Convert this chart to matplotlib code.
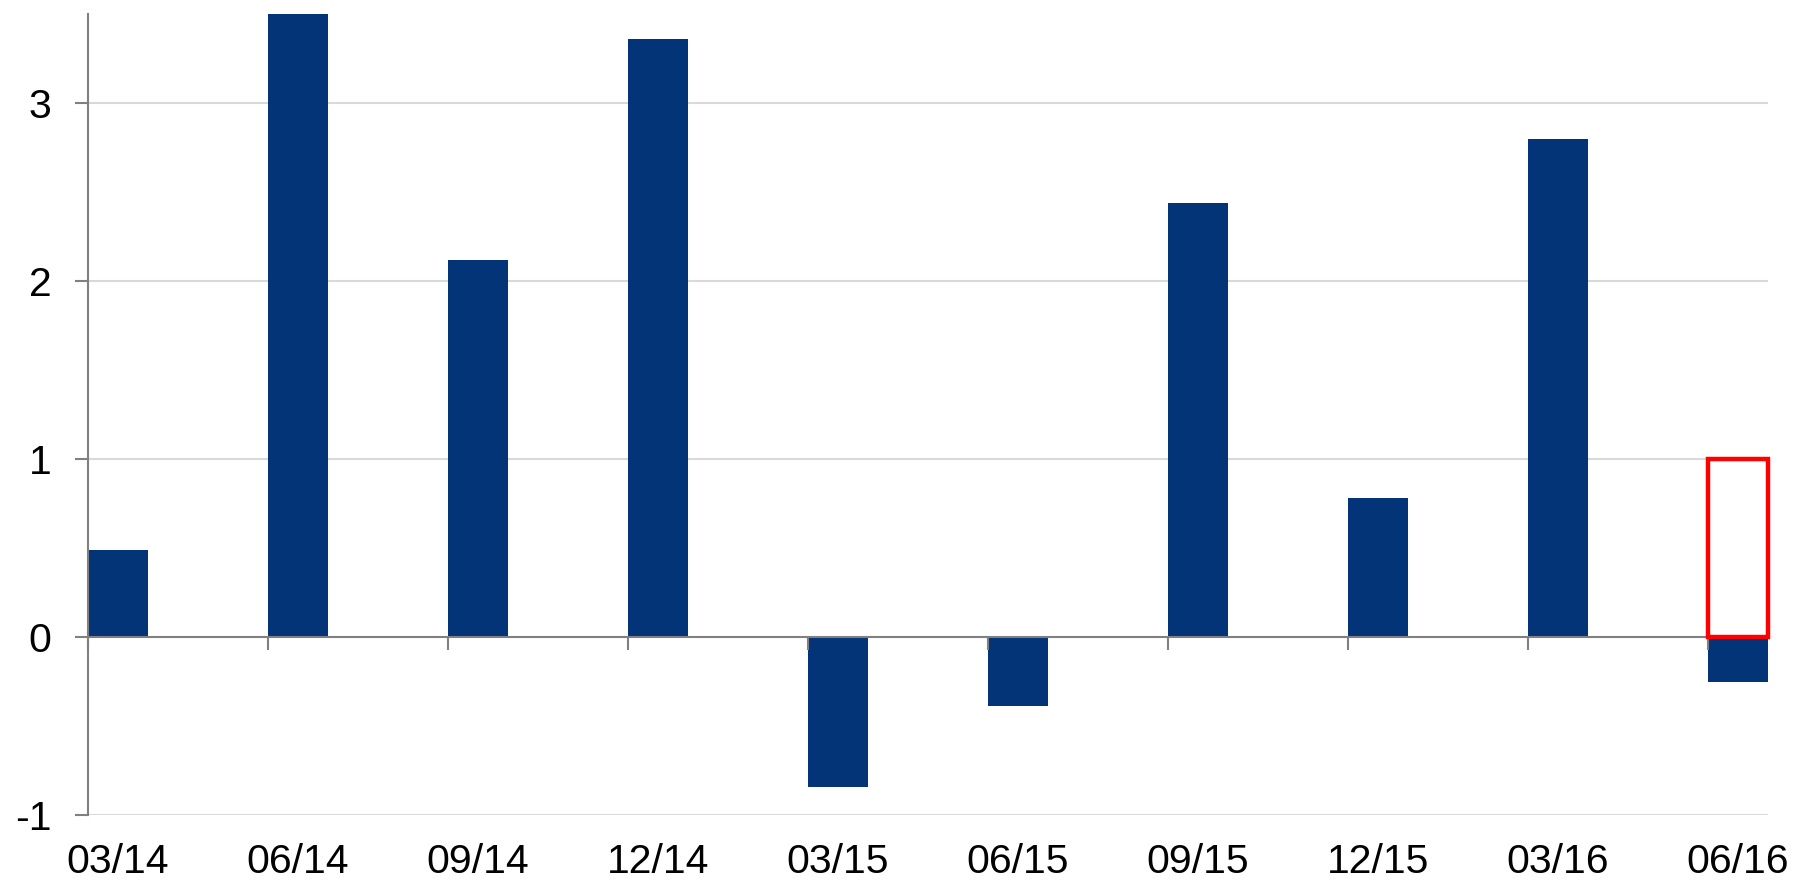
"""Quarterly bar chart with a highlighted target box on the last quarter."""

import matplotlib

matplotlib.use("Agg")
import matplotlib.pyplot as plt  # noqa: E402
import numpy as np  # noqa: E402

quarters = ["03/14", "06/14", "09/14", "12/14", "03/15",
            "06/15", "09/15", "12/15", "03/16", "06/16"]
values = [0.49, 3.55, 2.12, 3.36, -0.84, -0.39, 2.44, 0.78, 2.80, -0.25]
highlight_quarter = "06/16"
highlight_value = 1.0
y_ticks = [-1, 0, 1, 2, 3]

BAR = "#023477"
AXIS = "#808080"
GRID = "#d9d9d9"
WIDTH = 1 / 3

plt.rcParams["font.family"] = ["Liberation Sans", "DejaVu Sans"]

W, H, DPI = 1794, 884, 100
fig = plt.figure(figsize=(W / DPI, H / DPI), dpi=DPI)
ax = fig.add_axes([88 / W, (H - 815) / H, (1768 - 88) / W, (815 - 14) / H])

x = np.arange(len(quarters))
ax.bar(x, values, width=WIDTH, align="edge", color=BAR, zorder=2)

hi = quarters.index(highlight_quarter)
ax.bar([x[hi]], [highlight_value], width=WIDTH, align="edge", fill=False,
       edgecolor="#ff0000", linewidth=3.2, zorder=4, clip_on=False)

ax.set_xlim(0, len(quarters) - 1 + WIDTH)
ax.set_ylim(-1, 3.5)

# y axis
ax.set_yticks(y_ticks)
ax.set_yticklabels([str(t) for t in y_ticks])
ax.tick_params(axis="y", direction="out", length=9.4, width=1.5, color=AXIS,
               labelsize=29.5, pad=17)
for t in [v for v in y_ticks if v != 0]:
    ax.axhline(t, color=GRID, linewidth=1.5, zorder=1)

# category labels under the plot, centred on the bars
ax.set_xticks(x + WIDTH / 2)
ax.set_xticklabels(quarters)
ax.tick_params(axis="x", length=0, labelsize=29.5, pad=20)

for side in ("top", "right", "bottom"):
    ax.spines[side].set_visible(False)
ax.spines["left"].set_color(AXIS)
ax.spines["left"].set_linewidth(1.5)

# zero line with category ticks
zero = ax.secondary_xaxis(1 / 4.5)
zero.set_xticks(x)
zero.set_xticklabels([])
zero.tick_params(direction="out", length=9.4, width=1.5, color=AXIS)
zero.spines["bottom"].set_color(AXIS)
zero.spines["bottom"].set_linewidth(1.5)
zero.set_zorder(3)

fig.savefig("out.png", dpi=DPI)
plt.close(fig)
